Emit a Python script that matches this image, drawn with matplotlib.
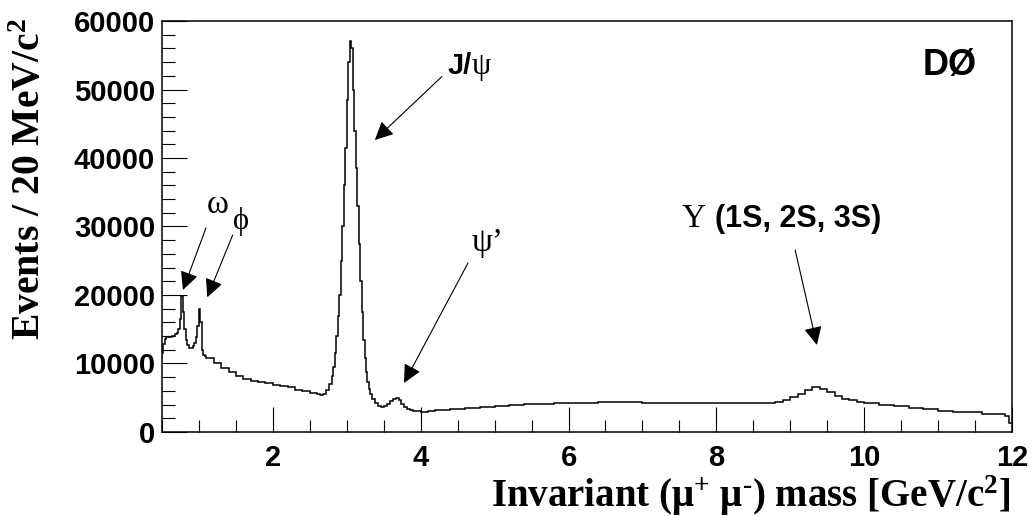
import numpy as np
import matplotlib.pyplot as plt
from matplotlib.ticker import MultipleLocator

plt.rcParams['mathtext.fontset'] = 'custom'
plt.rcParams['mathtext.rm'] = 'Liberation Serif:bold'
plt.rcParams['mathtext.it'] = 'Liberation Serif:bold'
plt.rcParams['mathtext.bf'] = 'Liberation Serif:bold'

# ── data: dimuon mass histogram (edges in GeV, counts per bin) ────────
bin_edges = [
    0.50, 0.52, 0.54, 0.56, 0.60, 0.64, 0.68, 0.70, 0.72, 0.74, 0.76, 0.78,
    0.80, 0.82, 0.84, 0.86, 0.88, 0.92, 0.94, 0.96, 0.98, 1.00, 1.02, 1.04,
    1.06, 1.08, 1.10, 1.20, 1.30, 1.40, 1.50, 1.60, 1.70, 1.80, 1.90, 2.00,
    2.10, 2.20, 2.30, 2.40, 2.50, 2.60, 2.64, 2.68, 2.72, 2.76, 2.80, 2.82,
    2.84, 2.86, 2.88, 2.90, 2.92, 2.94, 2.96, 2.98, 3.00, 3.02, 3.04, 3.06,
    3.08, 3.10, 3.12, 3.14, 3.16, 3.18, 3.20, 3.22, 3.24, 3.26, 3.28, 3.30,
    3.32, 3.34, 3.38, 3.42, 3.46, 3.50, 3.54, 3.58, 3.62, 3.66, 3.70, 3.74,
    3.78, 3.82, 3.86, 3.90, 3.95, 4.00, 4.10, 4.20, 4.30, 4.40, 4.50, 4.60,
    4.80, 5.00, 5.20, 5.40, 5.60, 5.80, 6.00, 6.20, 6.40, 6.60, 6.80, 7.00,
    7.20, 7.40, 7.60, 7.80, 8.00, 8.20, 8.40, 8.60, 8.80, 8.90, 9.00, 9.10,
    9.20, 9.30, 9.40, 9.50, 9.60, 9.70, 9.80, 9.90, 10.0, 10.2, 10.4, 10.6,
    10.8, 11.0, 11.2, 11.4, 11.6, 11.8, 11.9, 11.96, 12.0,
]
counts = [
    11600, 12800, 13600, 13800, 13900, 14000, 14300, 14500, 15000, 16500, 19800,
    17500, 15000, 13500, 12700, 12300, 12200, 12500, 13000, 13800, 15500, 17900,
    16000, 12000, 11300, 11100, 10800, 10100, 9400, 8800, 8200, 7800, 7500,
    7300, 7100, 6900, 6700, 6500, 6200, 6000, 5700, 5500, 5400, 5600, 6100,
    7000, 8200, 9500, 11500, 14000, 17000, 20000, 25000, 30000, 36000, 41500,
    48500, 54000, 57100, 56000, 50000, 44000, 38500, 33000, 27500, 22000,
    17500, 13500, 10800, 8800, 7300, 6300, 5500, 4800, 4200, 3800, 3700, 3800,
    4100, 4500, 4800, 4900, 4600, 4100, 3700, 3400, 3250, 3100, 3000, 2950,
    3050, 3150, 3250, 3300, 3400, 3500, 3650, 3800, 3950, 4050, 4150, 4200,
    4250, 4300, 4330, 4350, 4330, 4300, 4300, 4280, 4250, 4220, 4200, 4180,
    4200, 4250, 4400, 4700, 5100, 5500, 6100, 6600, 6300, 5800, 5200, 4800,
    4600, 4400, 4200, 4000, 3800, 3500, 3300, 3100, 2950, 2850, 2700, 2600,
    2300, 1300,
]

SANS = 'Liberation Sans'
SERIF = 'Liberation Serif'

fig = plt.figure(figsize=(10.33, 5.16), dpi=100)
fig.patch.set_facecolor('white')
ax = fig.add_axes([0.1568, 0.1628, 0.8229, 0.7965])

ax.stairs(counts, bin_edges, baseline=None, color='black', linewidth=1.1)

ax.set_xlim(0.5, 12)
ax.set_ylim(0, 60000)
ax.xaxis.set_major_locator(MultipleLocator(2))
ax.xaxis.set_minor_locator(MultipleLocator(0.5))
ax.yaxis.set_major_locator(MultipleLocator(10000))
ax.yaxis.set_minor_locator(MultipleLocator(2000))
ax.tick_params(which='both', direction='in', top=False, right=False,
               width=0.8, color='black')
ax.tick_params(which='major', length=18)
ax.tick_params(which='minor', length=9)
ax.tick_params(axis='x', pad=9)
ax.tick_params(axis='y', pad=5)
for lab in ax.get_xticklabels() + ax.get_yticklabels():
    lab.set_fontfamily(SANS)
    lab.set_fontweight('bold')
    lab.set_fontsize(21)
for sp in ax.spines.values():
    sp.set_linewidth(1.1)

# axis titles (ROOT style, right/top aligned)
fig.text(0.978, 0.018, 'Invariant (μ$^{+}$ μ$^{\u2010}$) mass [GeV/c$^{2}$]',
         ha='right', va='baseline', fontsize=28, fontweight='bold',
         family=SERIF)
fig.text(0.030, 0.966, r'Events / 20 MeV/c$^{2}$', rotation=90,
         ha='center', va='top', fontsize=28.5, fontweight='bold', family=SERIF)

# peak labels
arrow_kw = dict(arrowstyle='-|>,head_length=0.45,head_width=0.22',
                mutation_scale=25, color='black', lw=0.8,
                shrinkA=0, shrinkB=0)

ax.text(4.37, 52270, 'J/', fontsize=21, fontweight='bold', family=SANS,
        ha='left', va='baseline')
ax.text(4.69, 52270, 'ψ', fontsize=22, family=SERIF, ha='left', va='baseline')
ax.annotate('', xy=(3.38, 42630), xytext=(4.285, 51870), arrowprops=arrow_kw)

ax.text(1.109, 31970, 'ω', fontsize=24, family=SERIF, ha='left', va='baseline')
ax.text(1.46, 29640, 'ϕ', fontsize=22, family=SERIF, ha='left', va='baseline')
ax.annotate('', xy=(0.784, 20730), xytext=(1.095, 29780), arrowprops=arrow_kw)
ax.annotate('', xy=(1.113, 19670), xytext=(1.457, 28760), arrowprops=arrow_kw)

ax.text(4.69, 26430, 'ψ’', fontsize=24, family=SERIF, ha='left', va='baseline')
ax.annotate('', xy=(3.775, 7150), xytext=(4.64, 24670), arrowprops=arrow_kw)

ax.text(7.53, 29930, 'Υ', fontsize=24, family=SERIF, ha='left', va='baseline')
ax.text(7.98, 29930, '(1S, 2S, 3S)', fontsize=22, fontweight='bold',
        family=SANS, ha='left', va='baseline')
ax.annotate('', xy=(9.36, 12700), xytext=(9.066, 26570), arrowprops=arrow_kw)

ax.text(11.524, 52120, 'DØ', fontsize=26, fontweight='bold', family=SANS,
        ha='right', va='baseline')

fig.savefig('out.png', dpi=100, facecolor='white')
